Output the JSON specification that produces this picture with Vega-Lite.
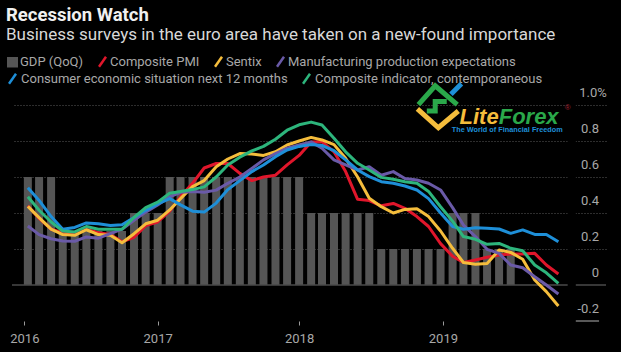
{"$schema":"https://vega.github.io/schema/vega-lite/v6.json","autosize":"none","width":594,"height":216,"padding":{"left":12,"top":105,"right":15,"bottom":31},"background":"#000000",
"title":{"text":"Recession Watch","subtitle":"Business surveys in the euro area have taken on a new-found importance","anchor":"start","frame":"group","dx":-6,"offset":-4,"font":"Roboto","fontSize":18.5,"fontWeight":"bold","color":"#f0f0f0","subtitleFont":"Roboto","subtitleFontSize":17,"subtitleColor":"#d8d8d8","subtitlePadding":3},
"config":{"view":{"stroke":null}},
"data":{"values":[
{"d":"2016-02-01","gdp":0.6,"pmi":0.44,"sen":0.437,"mfg":0.328,"con":0.54,"cmp":0.49},
{"d":"2016-03-01","gdp":0.6,"pmi":0.37,"sen":0.374,"mfg":0.28,"con":0.47,"cmp":0.415},
{"d":"2016-04-01","gdp":0.6,"pmi":0.31,"sen":0.31,"mfg":0.257,"con":0.38,"cmp":0.35},
{"d":"2016-05-01","gdp":0.3,"pmi":0.29,"sen":0.28,"mfg":0.244,"con":0.31,"cmp":0.3},
{"d":"2016-06-01","gdp":0.3,"pmi":0.28,"sen":0.276,"mfg":0.243,"con":0.32,"cmp":0.295},
{"d":"2016-07-01","gdp":0.3,"pmi":0.31,"sen":0.307,"mfg":0.267,"con":0.345,"cmp":0.325},
{"d":"2016-08-01","gdp":0.3,"pmi":0.29,"sen":0.28,"mfg":0.26,"con":0.34,"cmp":0.31},
{"d":"2016-09-01","gdp":0.3,"pmi":0.28,"sen":0.276,"mfg":0.285,"con":0.33,"cmp":0.31},
{"d":"2016-10-01","gdp":0.3,"pmi":0.24,"sen":0.235,"mfg":0.31,"con":0.335,"cmp":0.31},
{"d":"2016-11-01","gdp":0.4,"pmi":0.265,"sen":0.285,"mfg":0.36,"con":0.375,"cmp":0.375},
{"d":"2016-12-01","gdp":0.4,"pmi":0.33,"sen":0.34,"mfg":0.405,"con":0.415,"cmp":0.43},
{"d":"2017-01-01","gdp":0.4,"pmi":0.35,"sen":0.36,"mfg":0.445,"con":0.45,"cmp":0.46},
{"d":"2017-02-01","gdp":0.6,"pmi":0.41,"sen":0.417,"mfg":0.49,"con":0.48,"cmp":0.51},
{"d":"2017-03-01","gdp":0.6,"pmi":0.49,"sen":0.48,"mfg":0.515,"con":0.445,"cmp":0.52},
{"d":"2017-04-01","gdp":0.6,"pmi":0.565,"sen":0.547,"mfg":0.52,"con":0.41,"cmp":0.53},
{"d":"2017-05-01","gdp":0.6,"pmi":0.65,"sen":0.58,"mfg":0.515,"con":0.405,"cmp":0.545},
{"d":"2017-06-01","gdp":0.6,"pmi":0.675,"sen":0.657,"mfg":0.527,"con":0.455,"cmp":0.6},
{"d":"2017-07-01","gdp":0.6,"pmi":0.675,"sen":0.7,"mfg":0.565,"con":0.53,"cmp":0.667},
{"d":"2017-08-01","gdp":0.6,"pmi":0.62,"sen":0.73,"mfg":0.6,"con":0.58,"cmp":0.71},
{"d":"2017-09-01","gdp":0.6,"pmi":0.58,"sen":0.728,"mfg":0.648,"con":0.63,"cmp":0.745},
{"d":"2017-10-01","gdp":0.6,"pmi":0.6,"sen":0.72,"mfg":0.695,"con":0.667,"cmp":0.77},
{"d":"2017-11-01","gdp":0.6,"pmi":0.61,"sen":0.74,"mfg":0.73,"con":0.713,"cmp":0.81},
{"d":"2017-12-01","gdp":0.6,"pmi":0.667,"sen":0.778,"mfg":0.76,"con":0.75,"cmp":0.86},
{"d":"2018-01-01","gdp":0.6,"pmi":0.72,"sen":0.8,"mfg":0.778,"con":0.77,"cmp":0.89},
{"d":"2018-02-01","gdp":0.4,"pmi":0.795,"sen":0.82,"mfg":0.795,"con":0.78,"cmp":0.905},
{"d":"2018-03-01","gdp":0.4,"pmi":0.796,"sen":0.806,"mfg":0.76,"con":0.775,"cmp":0.889},
{"d":"2018-04-01","gdp":0.4,"pmi":0.74,"sen":0.78,"mfg":0.695,"con":0.746,"cmp":0.815},
{"d":"2018-05-01","gdp":0.4,"pmi":0.63,"sen":0.704,"mfg":0.667,"con":0.695,"cmp":0.74},
{"d":"2018-06-01","gdp":0.4,"pmi":0.476,"sen":0.6,"mfg":0.639,"con":0.639,"cmp":0.676},
{"d":"2018-07-01","gdp":0.4,"pmi":0.469,"sen":0.482,"mfg":0.657,"con":0.602,"cmp":0.639},
{"d":"2018-08-01","gdp":0.2,"pmi":0.44,"sen":0.435,"mfg":0.61,"con":0.574,"cmp":0.598},
{"d":"2018-09-01","gdp":0.2,"pmi":0.453,"sen":0.4,"mfg":0.63,"con":0.565,"cmp":0.587},
{"d":"2018-10-01","gdp":0.2,"pmi":0.426,"sen":0.42,"mfg":0.592,"con":0.55,"cmp":0.574},
{"d":"2018-11-01","gdp":0.2,"pmi":0.38,"sen":0.424,"mfg":0.583,"con":0.528,"cmp":0.565},
{"d":"2018-12-01","gdp":0.2,"pmi":0.325,"sen":0.38,"mfg":0.565,"con":0.48,"cmp":0.52},
{"d":"2019-01-01","gdp":0.2,"pmi":0.23,"sen":0.3,"mfg":0.528,"con":0.4,"cmp":0.435},
{"d":"2019-02-01","gdp":0.4,"pmi":0.16,"sen":0.204,"mfg":0.43,"con":0.325,"cmp":0.355},
{"d":"2019-03-01","gdp":0.4,"pmi":0.125,"sen":0.125,"mfg":0.333,"con":0.31,"cmp":0.269},
{"d":"2019-04-01","gdp":0.4,"pmi":0.139,"sen":0.115,"mfg":0.269,"con":0.318,"cmp":0.254},
{"d":"2019-05-01","gdp":0.2,"pmi":0.154,"sen":0.12,"mfg":0.198,"con":0.315,"cmp":0.226},
{"d":"2019-06-01","gdp":0.2,"pmi":0.167,"sen":0.194,"mfg":0.176,"con":0.311,"cmp":0.231},
{"d":"2019-07-01","gdp":0.2,"pmi":0.172,"sen":0.181,"mfg":0.111,"con":0.287,"cmp":0.204},
{"d":"2019-08-01","pmi":0.172,"sen":0.143,"mfg":0.096,"con":0.306,"cmp":0.19},
{"d":"2019-09-01","pmi":0.176,"sen":0.028,"mfg":0.046,"con":0.281,"cmp":0.111},
{"d":"2019-10-01","pmi":0.111,"sen":-0.037,"mfg":0,"con":0.281,"cmp":0.068},
{"d":"2019-11-01","pmi":0.061,"sen":-0.117,"mfg":-0.05,"con":0.24,"cmp":0.009}
]},
"encoding":{"x":{"field":"d","type":"temporal","title":null,
"scale":{"type":"utc","domain":[{"year":2016,"month":1,"date":4,"utc":true},{"year":2020,"month":2,"date":19,"utc":true}]},
"axis":{"values":[{"year":2016,"month":1,"date":23,"utc":true},{"year":2017,"month":1,"date":1,"utc":true},{"year":2018,"month":1,"date":1,"utc":true},{"year":2019,"month":1,"date":7,"utc":true}],"format":"%Y","grid":false,"domain":false,"ticks":true,"tickSize":4,"tickOffset":0,"tickColor":"#9a9a9a","labelColor":"#a8a8a8","labelFont":"Roboto","labelFontSize":13,"labelPadding":7,"labelFlush":false,"labelOverlap":false}}},
"layer":[
{"mark":{"type":"bar","size":8},
"encoding":{"y":{"field":"gdp","type":"quantitative","title":null,"scale":{"domain":[-0.2,1],"nice":false,"zero":false},
"axis":{"orient":"right","values":[0.2,0.4,0.6,0.8,1],"domain":false,"ticks":false,"labels":false,"grid":true,"gridColor":"#5a5a5a","gridDash":[1,2]}},
"color":{"datum":"gdp","type":"nominal","scale":{"domain":["gdp","pmi","sen","mfg"],"range":["#555555","#e0162b","#f5bd3c","#6a5aa8"]},
"legend":{"orient":"none","legendX":-6,"legendY":-66,"columns":4,"direction":"horizontal","title":null,"columnPadding":10,"symbolSize":100,"labelFont":"Roboto","labelFontSize":13,"labelColor":"#a8a8a8","labelLimit":400,"labelOffset":1,"labelExpr":"{'gdp':'GDP (QoQ)','pmi':'Composite PMI','sen':'Sentix','mfg':'Manufacturing production expectations'}[datum.label]",
"encoding":{"symbols":{"shape":{"condition":{"test":"datum.value==='gdp'","value":"M-0.85,-0.8H0.85V0.8H-0.85Z"},"value":"M-0.7,1L0.7,-1"},"fill":{"condition":{"test":"datum.value==='gdp'","value":"#555555"},"value":"transparent"},"stroke":{"condition":[{"test":"datum.value==='pmi'","value":"#e0162b"},{"test":"datum.value==='sen'","value":"#f5bd3c"},{"test":"datum.value==='mfg'","value":"#6a5aa8"}],"value":"transparent"},"strokeWidth":{"value":2.5},"opacity":{"value":1}}}}}}},
{"data":{"values":[{"v":0}]},"mark":{"type":"rule","color":"#4a4a4a","strokeWidth":1.5},"encoding":{"x":{"value":0},"x2":{"value":594},"y":{"field":"v","type":"quantitative"}}},
{"transform":[{"fold":["pmi","sen","mfg"],"as":["series","val"]}],
"mark":{"type":"line","strokeWidth":3,"interpolate":"linear","strokeJoin":"round"},
"encoding":{"y":{"field":"val","type":"quantitative"},"color":{"field":"series","type":"nominal"}}},
{"transform":[{"fold":["con","cmp"],"as":["series2","val"]}],
"mark":{"type":"line","strokeWidth":3,"interpolate":"linear","strokeJoin":"round"},
"encoding":{"y":{"field":"val","type":"quantitative"},"stroke":{"field":"series2","type":"nominal","scale":{"domain":["con","cmp"],"range":["#1e8fd8","#2db57c"]},
"legend":{"orient":"top","offset":16,"columns":2,"direction":"horizontal","title":null,"columnPadding":10,"symbolSize":100,"symbolOffset":-6,"labelFont":"Roboto","labelFontSize":13,"labelColor":"#a8a8a8","labelLimit":400,"labelOffset":2,"labelExpr":"{'con':'Consumer economic situation next 12 months','cmp':'Composite indicator, contemporaneous'}[datum.label]",
"encoding":{"symbols":{"shape":{"value":"M-0.7,1L0.7,-1"},"fill":{"value":"transparent"},"strokeWidth":{"value":2.5},"opacity":{"value":1}}}}}}},
{"data":{"values":[{"d":"2019-11-25","e":"2019-12-16"}]},"mark":{"type":"rect","color":"#000000"},"encoding":{"x2":{"field":"e"}}},
{"data":{"values":[{"d":"2019-12-16","e":"2020-02-14","v":-0.2}]},"mark":{"type":"rule","color":"#b0b0b0","strokeWidth":1},"encoding":{"x2":{"field":"e"},"y":{"field":"v","type":"quantitative"}}},
{"data":{"values":[{"d":"2020-02-14","v":-0.2,"t":"-0.2"},{"d":"2020-02-14","v":0,"t":"0"},{"d":"2020-02-14","v":0.2,"t":"0.2"},{"d":"2020-02-14","v":0.4,"t":"0.4"},{"d":"2020-02-14","v":0.6,"t":"0.6"},{"d":"2020-02-14","v":0.8,"t":"0.8"},{"d":"2020-03-05","v":1,"t":"1.0%"}]},"mark":{"type":"text","align":"right","baseline":"middle","dy":-12.5,"font":"Roboto","fontSize":13,"color":"#a8a8a8"},"encoding":{"y":{"field":"v","type":"quantitative"},"text":{"field":"t"}}},
{"data":{"values":[{"d":"2018-12-29","v":0.99}]},"mark":{"type":"point","filled":false,"size":1760,"strokeWidth":5,"strokeJoin":"miter","color":"#2aa84a","opacity":1,"shape":"M-1,-0.1L-0.2,-1L0.85,-0.1M-0.6,0.2L-0.2,0.2L-0.2,-0.25L0.35,-0.25"},"encoding":{"y":{"field":"v","type":"quantitative"}}},
{"data":{"values":[{"d":"2018-12-29","v":0.99}]},"mark":{"type":"point","filled":false,"size":1760,"strokeWidth":5,"color":"#f5bd3c","opacity":1,"shape":"M-1.05,0.1L-0.05,1L0.9,0.2"},"encoding":{"y":{"field":"v","type":"quantitative"}}},
{"data":{"values":[{"d":"2018-12-29","v":0.99}]},"mark":{"type":"point","filled":false,"size":1760,"strokeWidth":5,"color":"#1e8fd8","opacity":1,"shape":"M0.55,-0.6L1.05,-1.1"},"encoding":{"y":{"field":"v","type":"quantitative"}}},
{"data":{"values":[{"d":"2019-02-19","v":0.897,"t":"Lite"}]},"mark":{"type":"text","align":"left","baseline":"alphabetic","font":"Liberation Sans","fontWeight":"bold","fontStyle":"italic","fontSize":22,"color":"#f5bd3c"},"encoding":{"y":{"field":"v","type":"quantitative"},"text":{"field":"t"}}},
{"data":{"values":[{"d":"2019-05-31","v":0.897,"t":"Forex"}]},"mark":{"type":"text","align":"left","baseline":"alphabetic","font":"Liberation Sans","fontWeight":"bold","fontStyle":"italic","fontSize":22,"color":"#2aa84a"},"encoding":{"y":{"field":"v","type":"quantitative"},"text":{"field":"t"}}},
{"data":{"values":[{"d":"2019-06-22","v":0.861,"t":"The World of Financial Freedom"}]},"mark":{"type":"text","align":"center","baseline":"middle","font":"Liberation Sans","fontWeight":"bold","fontSize":7.3,"color":"#1e8fd8"},"encoding":{"y":{"field":"v","type":"quantitative"},"text":{"field":"t"}}},
{"data":{"values":[{"d":"2019-11-25","v":0.985,"t":"®"}]},"mark":{"type":"text","align":"center","baseline":"middle","font":"Liberation Sans","fontSize":8,"color":"#a02030"},"encoding":{"y":{"field":"v","type":"quantitative"},"text":{"field":"t"}}}
]}
